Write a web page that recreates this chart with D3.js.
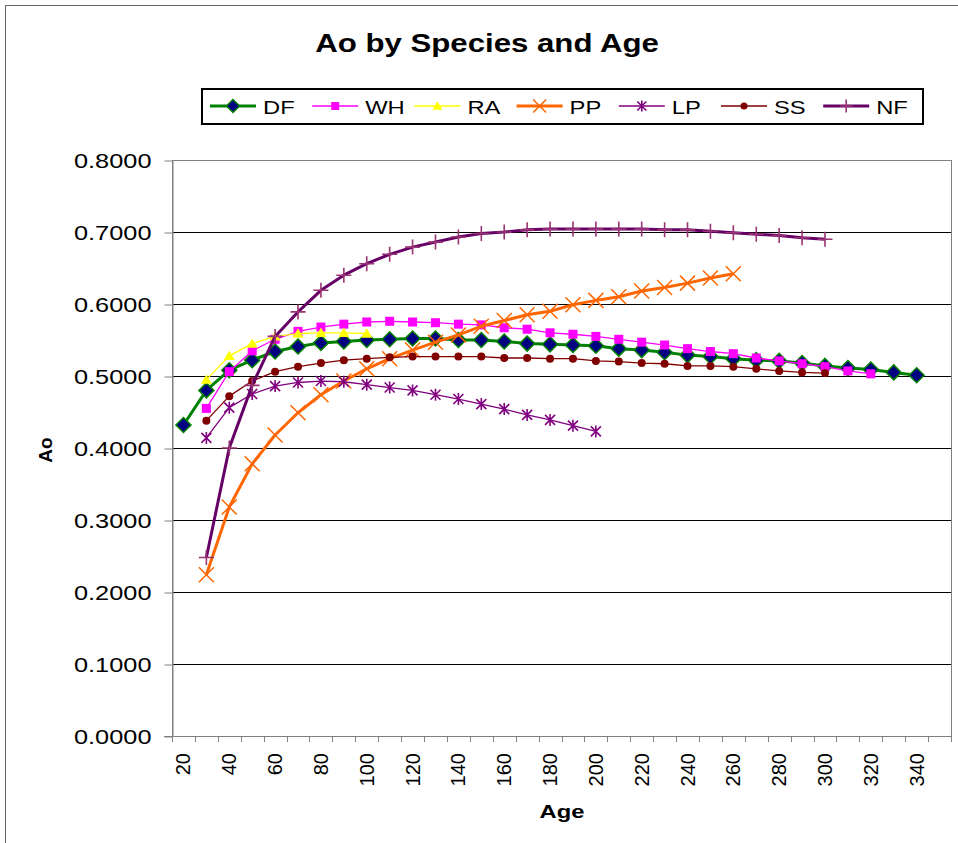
<!DOCTYPE html>
<html><head><meta charset="utf-8">
<script src="https://cdn.jsdelivr.net/npm/d3@7"></script>
<style>
body{margin:0;background:#fff}
svg{display:block}
text{font-family:"Liberation Sans",Arial,sans-serif;fill:#000}
</style>
</head><body>
<svg id="chart" width="958" height="843"></svg>
<script>
// ---------- DATA ----------
const categories = [20,30,40,50,60,70,80,90,100,110,120,130,140,150,160,170,180,190,200,210,220,230,240,250,260,270,280,290,300,310,320,330,340,350];
const xTickLabels = [20,40,60,80,100,120,140,160,180,200,220,240,260,280,300,320,340];
const yTickValues = [0,0.1,0.2,0.3,0.4,0.5,0.6,0.7,0.8];
const seriesNames = ["DF","WH","RA","PP","LP","SS","NF"];

const dfValues = [0.432,0.480,0.508,0.522,0.534,0.541,0.546,0.548,0.550,0.551,0.552,0.552,0.550,0.550,0.548,0.545,0.544,0.543,0.542,0.538,0.536,0.533,0.529,0.527,0.524,0.522,0.521,0.518,0.514,0.511,0.509,0.505,0.501,null];
const whValues = [null,0.455,0.506,0.535,0.551,0.562,0.568,0.572,0.575,0.576,0.575,0.574,0.572,0.571,0.567,0.565,0.560,0.558,0.555,0.551,0.547,0.543,0.538,0.534,0.531,0.525,0.521,0.517,0.513,0.507,0.503,null,null,null];
const raValues = [null,0.495,0.528,0.545,0.555,0.559,0.560,0.560,0.559,null,null,null,null,null,null,null,null,null,null,null,null,null,null,null,null,null,null,null,null,null,null,null,null,null];
const ppValues = [null,0.224,0.318,0.378,0.418,0.449,0.474,0.493,0.510,0.524,0.536,0.547,0.557,0.569,0.577,0.585,0.590,0.599,0.605,0.610,0.618,0.623,0.629,0.636,0.642,null,null,null,null,null,null,null,null,null];
const lpValues = [null,0.414,0.456,0.475,0.486,0.491,0.493,0.492,0.488,0.484,0.480,0.474,0.468,0.461,0.454,0.446,0.439,0.431,0.423,null,null,null,null,null,null,null,null,null,null,null,null,null,null,null];
const ssValues = [null,0.438,0.472,0.493,0.506,0.513,0.518,0.522,0.524,0.526,0.527,0.527,0.527,0.527,0.525,0.525,0.524,0.524,0.521,0.520,0.518,0.517,0.514,0.514,0.513,0.510,0.507,0.505,0.504,null,null,null,null,null];
const nfValues = [null,0.248,0.400,0.487,0.555,0.589,0.619,0.640,0.656,0.669,0.679,0.686,0.693,0.698,0.700,0.703,0.704,0.704,0.704,0.704,0.704,0.703,0.703,0.701,0.699,0.697,0.695,0.692,0.690,null,null,null,null,null];

const seriesValues = {DF:dfValues, WH:whValues, RA:raValues, PP:ppValues, LP:lpValues, SS:ssValues, NF:nfValues};

// ---------- STYLES ----------
const styles = {
  DF:{line:"#008000", lw:3,   marker:"diamond", fill:"#000080", stroke:"#008000", sw:1.5, size:7.5, lsize:6.5},
  WH:{line:"#FF00FF", lw:1.3, marker:"square",  fill:"#FF00FF", stroke:"#FF00FF", sw:0,   size:4.5, lsize:4},
  RA:{line:"#FFFF00", lw:1.3, marker:"triangle",fill:"#FFFF00", stroke:"#FFFF00", sw:0,   size:5.5, lsize:5},
  PP:{line:"#FF6600", lw:3,   marker:"x",       fill:"none",    stroke:"#FF6600", sw:1.5, size:7.5, lsize:6.5},
  LP:{line:"#800080", lw:1.3, marker:"star",    fill:"none",    stroke:"#800080", sw:1.6, size:5,   lsize:4.5},
  SS:{line:"#800000", lw:1.3, marker:"circle",  fill:"#800000", stroke:"#800000", sw:0,   size:4,   lsize:3.5},
  NF:{line:"#660066", lw:3,   marker:"plus",    fill:"none",    stroke:"#993373", sw:1.6, size:7.5, lsize:6.5}
};

// ---------- LAYOUT ----------
const svg = d3.select("#chart");
const plot = {left:172, right:951, top:160, bottom:736};

const x = d3.scaleBand().domain(categories).range([plot.left, plot.right]).paddingInner(0).paddingOuter(0);
const cx = c => x(c) + x.bandwidth()/2;
const y = d3.scaleLinear().domain([0,0.8]).range([plot.bottom, plot.top]);

// outer chart border
svg.append("rect").attr("x",5.5).attr("y",5.5).attr("width",1000).attr("height",900)
  .attr("fill","#fff").attr("stroke","#666").attr("stroke-width",1);

// gridlines
svg.append("g").selectAll("line").data(yTickValues.filter(v=>v>0 && v<0.8)).join("line")
  .attr("x1",plot.left).attr("x2",plot.right)
  .attr("y1",d=>Math.round(y(d))+0.5).attr("y2",d=>Math.round(y(d))+0.5)
  .attr("stroke","#000").attr("stroke-width",1);

// plot area border
svg.append("rect").attr("x",plot.left+0.5).attr("y",plot.top+0.5)
  .attr("width",plot.right-plot.left).attr("height",plot.bottom-plot.top)
  .attr("fill","none").attr("stroke","#808080").attr("stroke-width",1);

// y axis
const yAxis = d3.axisLeft(y).tickValues(yTickValues).tickFormat(d3.format(".4f")).tickSizeInner(8).tickSizeOuter(0).tickPadding(0);
const yg = svg.append("g").attr("transform",`translate(${plot.left+0.5},0.5)`).call(yAxis);
yg.select(".domain").attr("stroke","#808080");
yg.selectAll(".tick line").attr("stroke","#808080");
yg.selectAll(".tick text").attr("x",0).attr("dy",null)
  .attr("transform","translate(-21,7) scale(1.3,1)")
  .attr("text-anchor","end").style("font-size","19.5px").attr("fill","#000");
yg.attr("font-family",null).attr("font-size",null);

// x axis line + ticks at category boundaries
const xg = svg.append("g");
xg.append("line").attr("x1",plot.left-8).attr("x2",plot.right).attr("y1",plot.bottom+0.5).attr("y2",plot.bottom+0.5)
  .attr("stroke","#808080");
const boundaries = categories.map(c=>x(c)).concat([x(categories[categories.length-1])+x.bandwidth()]);
xg.selectAll("line.t").data(boundaries).join("line").attr("class","t")
  .attr("x1",d=>Math.round(d)+0.5).attr("x2",d=>Math.round(d)+0.5)
  .attr("y1",plot.bottom).attr("y2",plot.bottom+6).attr("stroke","#808080");
xg.selectAll("text").data(xTickLabels).join("text")
  .attr("transform",d=>`translate(${cx(d)+7},753) rotate(-90)`)
  .attr("text-anchor","end").style("font-size","20px").text(d=>d);

// axis titles
svg.append("text").attr("transform","translate(562,818) scale(1.25,1)").attr("text-anchor","middle")
  .style("font-size","19px").style("font-weight","bold").text("Age");
svg.append("text").attr("transform","translate(52,450) rotate(-90)").attr("text-anchor","middle")
  .style("font-size","19px").style("font-weight","bold").text("Ao");

// title
svg.append("text").attr("transform","translate(487,52) scale(1.2,1)").attr("text-anchor","middle")
  .style("font-size","26px").style("font-weight","bold").text("Ao by Species and Age");

// marker drawing
function drawMarker(g, type, s, st){
  if(type==="diamond"){
    g.append("path").attr("d",`M0,${-s}L${s},0L0,${s}L${-s},0Z`).attr("fill",st.fill).attr("stroke",st.stroke).attr("stroke-width",st.sw);
  } else if(type==="square"){
    g.append("rect").attr("x",-s).attr("y",-s).attr("width",2*s).attr("height",2*s).attr("fill",st.fill);
  } else if(type==="triangle"){
    g.append("path").attr("d",`M0,${-s*0.95}L${s},${s*0.75}L${-s},${s*0.75}Z`).attr("fill",st.fill);
  } else if(type==="x"){
    g.append("path").attr("d",`M${-s},${-s}L${s},${s}M${-s},${s}L${s},${-s}`).attr("stroke",st.stroke).attr("stroke-width",st.sw).attr("fill","none");
  } else if(type==="star"){
    g.append("path").attr("d",`M${-s},${-s}L${s},${s}M${-s},${s}L${s},${-s}M0,${-s*1.2}L0,${s*1.2}`).attr("stroke",st.stroke).attr("stroke-width",st.sw).attr("fill","none");
  } else if(type==="circle"){
    g.append("circle").attr("r",s).attr("fill",st.fill);
  } else if(type==="plus"){
    g.append("path").attr("d",`M${-s},0L${s},0M0,${-s}L0,${s}`).attr("stroke",st.stroke).attr("stroke-width",st.sw).attr("fill","none");
  }
}

// series
const line = d3.line().defined(d=>d.v!=null).x(d=>cx(d.c)).y(d=>y(d.v));
seriesNames.forEach(name=>{
  const st = styles[name];
  const pts = categories.map((c,i)=>({c, v:seriesValues[name][i]}));
  const g = svg.append("g");
  g.append("path").datum(pts).attr("d",line).attr("fill","none")
    .attr("stroke",st.line).attr("stroke-width",st.lw).attr("stroke-linejoin","round");
  pts.filter(d=>d.v!=null).forEach(d=>{
    const mg = g.append("g").attr("transform",`translate(${cx(d.c)},${y(d.v)})`);
    drawMarker(mg, st.marker, st.size, st);
  });
});

// legend
const lg = svg.append("g");
lg.append("rect").attr("x",202).attr("y",89).attr("width",721).attr("height",35)
  .attr("fill","#fff").attr("stroke","#000").attr("stroke-width",2);
seriesNames.forEach((name,i)=>{
  const st = styles[name];
  const x0 = 210 + i*102.2;
  const ly = 106;
  lg.append("line").attr("x1",x0).attr("x2",x0+46).attr("y1",ly).attr("y2",ly)
    .attr("stroke",st.line).attr("stroke-width",st.lw);
  const mg = lg.append("g").attr("transform",`translate(${x0+23},${ly})`);
  drawMarker(mg, st.marker, st.lsize, st);
  lg.append("text").attr("transform",`translate(${x0+53},114) scale(1.25,1)`)
    .style("font-size","19px").text(name);
});
</script>
</body></html>
